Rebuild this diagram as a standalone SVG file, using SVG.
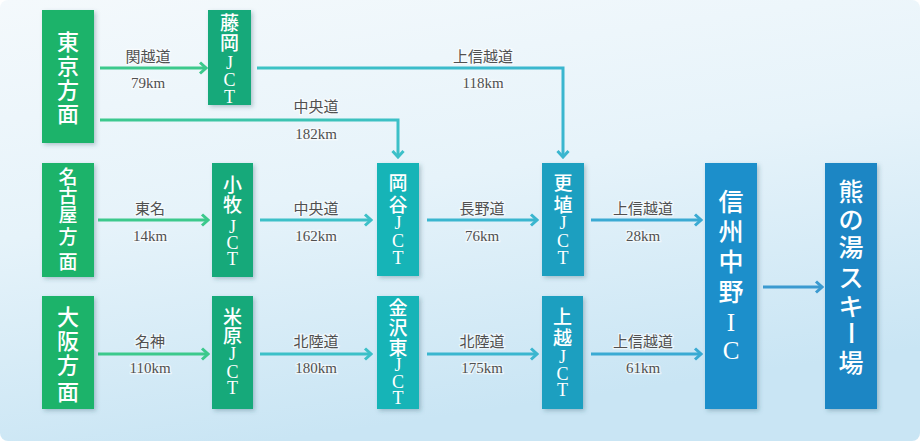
<svg xmlns="http://www.w3.org/2000/svg" width="920" height="441" viewBox="0 0 920 441">
<defs>
<linearGradient id="bg" x1="0" y1="0" x2="0.3" y2="1">
<stop offset="0" stop-color="#f4f9fc"/>
<stop offset="0.5" stop-color="#e6f3fa"/>
<stop offset="1" stop-color="#c9e5f4"/>
</linearGradient>
<linearGradient id="gChuo" gradientUnits="userSpaceOnUse" x1="100" y1="0" x2="400" y2="0">
<stop offset="0" stop-color="#3cc98c"/>
<stop offset="1" stop-color="#3cc0c8"/>
</linearGradient>
<linearGradient id="gJoshin" gradientUnits="userSpaceOnUse" x1="257" y1="0" x2="563" y2="0">
<stop offset="0" stop-color="#3cc3c4"/>
<stop offset="1" stop-color="#3ab6cf"/>
</linearGradient>
<filter id="sh" x="-20%" y="-10%" width="150%" height="130%">
<feDropShadow dx="2" dy="2" stdDeviation="2" flood-color="#335566" flood-opacity="0.3"/>
</filter>
<marker id="mGreen" viewBox="0 0 10 14" refX="8" refY="7" markerWidth="10" markerHeight="14" markerUnits="userSpaceOnUse" orient="auto">
<path d="M2,1.5 L8,7 L2,12.5" fill="none" stroke="#3cc98c" stroke-width="3"/>
</marker>
<marker id="mTeal" viewBox="0 0 10 14" refX="8" refY="7" markerWidth="10" markerHeight="14" markerUnits="userSpaceOnUse" orient="auto">
<path d="M2,1.5 L8,7 L2,12.5" fill="none" stroke="#3cc0c8" stroke-width="3"/>
</marker>
<marker id="mCyan" viewBox="0 0 10 14" refX="8" refY="7" markerWidth="10" markerHeight="14" markerUnits="userSpaceOnUse" orient="auto">
<path d="M2,1.5 L8,7 L2,12.5" fill="none" stroke="#3ab6cf" stroke-width="3"/>
</marker>
<marker id="mSky" viewBox="0 0 10 14" refX="8" refY="7" markerWidth="10" markerHeight="14" markerUnits="userSpaceOnUse" orient="auto">
<path d="M2,1.5 L8,7 L2,12.5" fill="none" stroke="#3aaad3" stroke-width="3"/>
</marker>
<marker id="mBlue" viewBox="0 0 10 14" refX="8" refY="7" markerWidth="10" markerHeight="14" markerUnits="userSpaceOnUse" orient="auto">
<path d="M2,1.5 L8,7 L2,12.5" fill="none" stroke="#3b9ad0" stroke-width="3"/>
</marker>
</defs>
<style>
.box{filter:url(#sh)}
.bt{font-family:"Liberation Serif","Noto Sans CJK JP",serif;fill:#ffffff;text-anchor:middle;font-weight:500}
.k{font-size:19px}
.j{font-size:18px}
.kl{font-size:22px}
.kx{font-size:25px}
.l{font-family:"Liberation Serif","Noto Sans CJK JP",serif;fill:#505050;text-anchor:middle;font-size:15px;stroke:#ffffff;stroke-width:2.5;stroke-opacity:0.6;paint-order:stroke}
.c{fill:none;stroke-width:3}
</style>
<rect x="0" y="0" width="920" height="441" fill="#ffffff"/>
<rect x="0" y="0" width="920" height="441" rx="8" fill="url(#bg)"/>

<g id="connectors">
<line class="c" x1="100" y1="68" x2="206" y2="68" stroke="#3cc98c" marker-end="url(#mGreen)"/>
<path class="c" d="M257,68 H563 V157" stroke="url(#gJoshin)" marker-end="url(#mCyan)"/>
<path class="c" d="M100,120 H398 V157" stroke="url(#gChuo)" marker-end="url(#mTeal)"/>
<line class="c" x1="98" y1="220" x2="208" y2="220" stroke="#3cc98c" marker-end="url(#mGreen)"/>
<line class="c" x1="260" y1="220" x2="371" y2="220" stroke="#3cc0c8" marker-end="url(#mTeal)"/>
<line class="c" x1="427" y1="220" x2="537" y2="220" stroke="#3ab6cf" marker-end="url(#mCyan)"/>
<line class="c" x1="591" y1="220" x2="701" y2="220" stroke="#3aaad3" marker-end="url(#mSky)"/>
<line class="c" x1="98" y1="354" x2="208" y2="354" stroke="#3cc98c" marker-end="url(#mGreen)"/>
<line class="c" x1="260" y1="354" x2="371" y2="354" stroke="#3cc0c8" marker-end="url(#mTeal)"/>
<line class="c" x1="427" y1="354" x2="537" y2="354" stroke="#3ab6cf" marker-end="url(#mCyan)"/>
<line class="c" x1="591" y1="354" x2="701" y2="354" stroke="#3aaad3" marker-end="url(#mSky)"/>
<line class="c" x1="763" y1="287" x2="822" y2="287" stroke="#3b9ad0" marker-end="url(#mBlue)"/>
<text class="l" x="148" y="62">関越道</text>
<text class="l" x="148" y="88">79km</text>
<text class="l" x="483" y="62">上信越道</text>
<text class="l" x="483" y="88">118km</text>
<text class="l" x="316" y="112">中央道</text>
<text class="l" x="316" y="139">182km</text>
<text class="l" x="150" y="214">東名</text>
<text class="l" x="150" y="241">14km</text>
<text class="l" x="316" y="214">中央道</text>
<text class="l" x="316" y="241">162km</text>
<text class="l" x="482" y="214">長野道</text>
<text class="l" x="482" y="241">76km</text>
<text class="l" x="643" y="214">上信越道</text>
<text class="l" x="643" y="241">28km</text>
<text class="l" x="150" y="347">名神</text>
<text class="l" x="150" y="373">110km</text>
<text class="l" x="316" y="347">北陸道</text>
<text class="l" x="316" y="373">180km</text>
<text class="l" x="482" y="347">北陸道</text>
<text class="l" x="482" y="373">175km</text>
<text class="l" x="643" y="347">上信越道</text>
<text class="l" x="643" y="373">61km</text>
</g>

<g id="tokyo">
<rect class="box" x="42" y="10" width="52" height="133" fill="#1fb36b"/>
<text class="bt kl" x="68" y="50">東</text>
<text class="bt kl" x="68" y="74">京</text>
<text class="bt kl" x="68" y="98">方</text>
<text class="bt kl" x="68" y="122">面</text>
</g>
<g id="fujioka">
<rect class="box" x="208" y="10" width="43" height="95" fill="#17a97a"/>
<text class="bt k" x="229.5" y="30">藤</text>
<text class="bt k" x="229.5" y="50">岡</text>
<text class="bt j" x="229.5" y="69">J</text>
<text class="bt j" x="229.5" y="86">C</text>
<text class="bt j" x="229.5" y="103">T</text>
</g>
<g id="nagoya">
<rect class="box" x="42" y="163" width="52" height="114" fill="#1fb36b"/>
<text class="bt k" x="68" y="184">名</text>
<text class="bt k" x="68" y="203">古</text>
<text class="bt k" x="68" y="222">屋</text>
<text class="bt k" x="68" y="244">方</text>
<text class="bt k" x="68" y="269">面</text>
</g>
<g id="komaki">
<rect class="box" x="212" y="163" width="41" height="114" fill="#17a97a"/>
<text class="bt k" x="232.5" y="192">小</text>
<text class="bt k" x="232.5" y="212">牧</text>
<text class="bt j" x="232.5" y="233">J</text>
<text class="bt j" x="232.5" y="249">C</text>
<text class="bt j" x="232.5" y="265">T</text>
</g>
<g id="okaya">
<rect class="box" x="377" y="163" width="42" height="113" fill="#13b4b7"/>
<text class="bt k" x="398" y="190">岡</text>
<text class="bt k" x="398" y="212">谷</text>
<text class="bt j" x="398" y="229">J</text>
<text class="bt j" x="398" y="247">C</text>
<text class="bt j" x="398" y="264">T</text>
</g>
<g id="koshoku">
<rect class="box" x="542" y="163" width="42" height="113" fill="#1a9fc0"/>
<text class="bt k" x="563" y="190">更</text>
<text class="bt k" x="563" y="212">埴</text>
<text class="bt j" x="563" y="229">J</text>
<text class="bt j" x="563" y="247">C</text>
<text class="bt j" x="563" y="264">T</text>
</g>
<g id="osaka">
<rect class="box" x="42" y="296" width="52" height="113" fill="#1fb36b"/>
<text class="bt kl" x="68" y="325">大</text>
<text class="bt kl" x="68" y="349">阪</text>
<text class="bt kl" x="68" y="373">方</text>
<text class="bt kl" x="68" y="400">面</text>
</g>
<g id="maibara">
<rect class="box" x="212" y="296" width="41" height="113" fill="#17a97a"/>
<text class="bt k" x="232.5" y="324">米</text>
<text class="bt k" x="232.5" y="343">原</text>
<text class="bt j" x="232.5" y="360">J</text>
<text class="bt j" x="232.5" y="378">C</text>
<text class="bt j" x="232.5" y="394">T</text>
</g>
<g id="kanazawahigashi">
<rect class="box" x="377" y="296" width="42" height="113" fill="#13b4b7"/>
<text class="bt k" x="398" y="315">金</text>
<text class="bt k" x="398" y="335">沢</text>
<text class="bt k" x="398" y="355">東</text>
<text class="bt j" x="398" y="371">J</text>
<text class="bt j" x="398" y="388">C</text>
<text class="bt j" x="398" y="404">T</text>
</g>
<g id="joetsu">
<rect class="box" x="542" y="296" width="41" height="113" fill="#1a9fc0"/>
<text class="bt k" x="562.5" y="324">上</text>
<text class="bt k" x="562.5" y="345">越</text>
<text class="bt j" x="562.5" y="363">J</text>
<text class="bt j" x="562.5" y="380">C</text>
<text class="bt j" x="562.5" y="396">T</text>
</g>
<g id="shinshunakano">
<rect class="box" x="705" y="163" width="52" height="246" fill="#1d8fcb"/>
<text class="bt kx" x="731" y="211">信</text>
<text class="bt kx" x="731" y="241">州</text>
<text class="bt kx" x="731" y="271">中</text>
<text class="bt kx" x="731" y="301">野</text>
<text class="bt kx" x="731" y="331">I</text>
<text class="bt kx" x="731" y="359">C</text>
</g>
<g id="kumanoyu">
<rect class="box" x="825" y="163" width="52" height="246" fill="#1f86c4"/>
<text class="bt kx" x="851" y="201">熊</text>
<text class="bt kx" x="851" y="229">の</text>
<text class="bt kx" x="851" y="257">湯</text>
<text class="bt kx" x="851" y="287">ス</text>
<text class="bt kx" x="851" y="316">キ</text>
<text class="bt kx" x="851" y="342" transform="rotate(90 851 333)">ー</text>
<text class="bt kx" x="851" y="372">場</text>
</g>
</svg>
